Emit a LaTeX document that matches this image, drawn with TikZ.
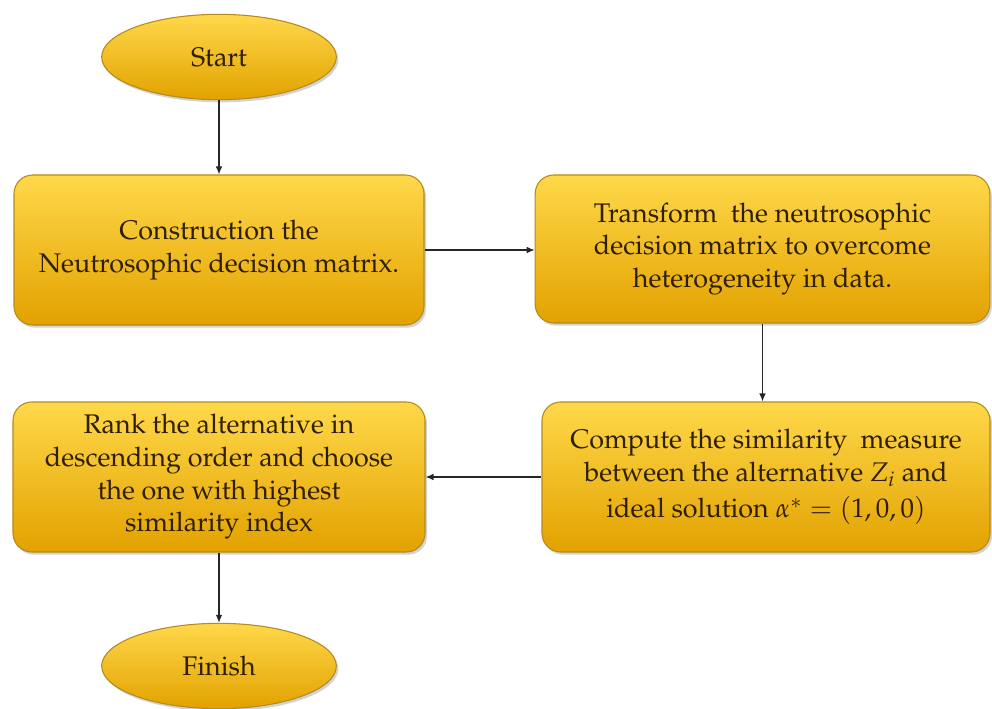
\documentclass[tikz,border=0pt]{standalone}
\usepackage[T1]{fontenc}
\usepackage{mathpazo}
\usetikzlibrary{shapes.geometric,shadows,arrows.meta}
\definecolor{goldtop}{HTML}{FFD84A}
\definecolor{goldbot}{HTML}{E2A200}
\definecolor{goldedge}{HTML}{B58A1E}
\definecolor{txtbrown}{HTML}{2E1E02}
\begin{document}
\begin{tikzpicture}[x=0.75pt,y=-0.75pt,
  base/.style={draw=goldedge, line width=0.8pt, top color=goldtop, bottom color=goldbot,
    drop shadow={opacity=0.35, shadow xshift=1.5pt, shadow yshift=-2pt},
    align=center, text=txtbrown, font=\fontsize{20.2}{24.5}\selectfont, inner sep=0pt},
  stepbox/.style={base, rectangle, rounded corners=14pt, minimum height=112.5pt},
  term/.style={base, ellipse, minimum width=176pt, minimum height=64pt},
  conn/.style={-{Latex[length=6pt,width=5pt]}, line width=0.9pt, draw=black!85}]
\useasboundingbox (0,0) rectangle (992,709);
\node[term] (start) at (219,57) {Start};
\node[stepbox, minimum width=307.5pt] (b1) at (219,250) {Construction the\\Neutrosophic decision matrix.};
\node[stepbox, minimum width=341pt, minimum height=111pt] (b2) at (762.5,249) {Transform \ the neutrosophic\\decision matrix to overcome\\heterogeneity in data.};
\node[stepbox, minimum width=336pt] (b3) at (766,477) {Compute the similarity \ measure\\between the alternative $Z_i$ and\\[3pt]ideal solution $\alpha^* = (1,0,0)$};
\node[stepbox, minimum width=309pt] (b4) at (219,477) {Rank the alternative in\\descending order and choose\\the one with highest\\similarity index};
\node[term] (fin) at (219,666) {Finish};
\draw[conn] (start.south) -- (b1.north);
\draw[conn] (b1.east) -- (b1.east -| b2.west);
\draw[conn] (b2.south) -- (b2.south |- b3.north);
\draw[conn] (b3.west) -- (b3.west -| b4.east);
\draw[conn] (b4.south) -- (fin.north);
\end{tikzpicture}
\end{document}
